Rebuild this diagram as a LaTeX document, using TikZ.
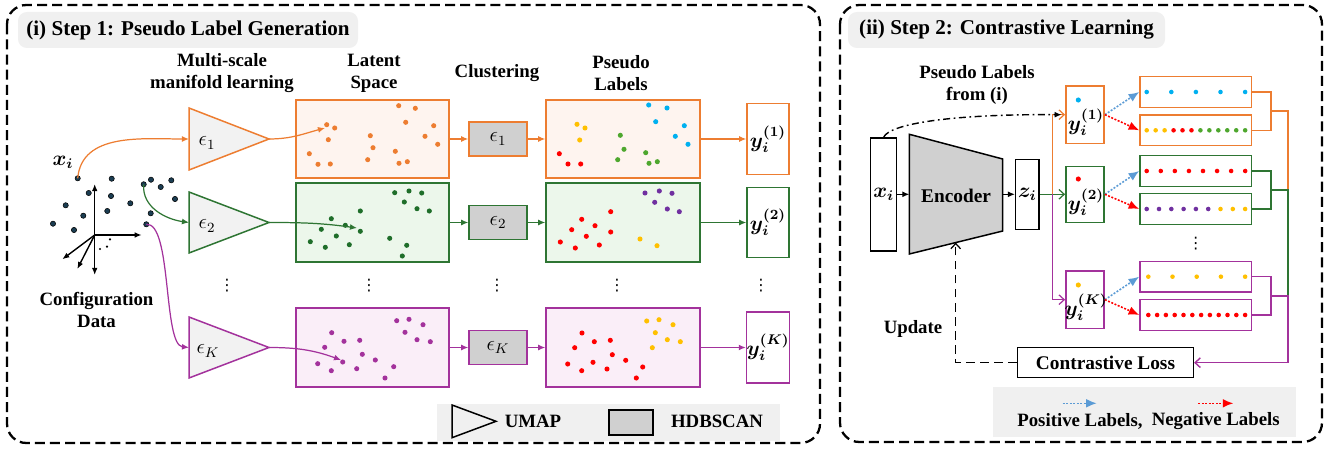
\documentclass[tikz,border=0pt]{standalone}
\usepackage{fontspec}
\setmainfont{Liberation Serif}
\newfontfamily\dejavu{DejaVu Sans}
\usetikzlibrary{arrows,arrows.meta,shapes,positioning,calc}
\definecolor{corange}{HTML}{ED7D31}
\definecolor{cgreen}{HTML}{2E7533}
\definecolor{cpurple}{HTML}{A3329C}
\definecolor{forange}{HTML}{FEF4EF}
\definecolor{fgreen}{HTML}{ECF7EB}
\definecolor{fpurple}{HTML}{FAEEF8}
\definecolor{dnavy}{HTML}{1B3D52}
\definecolor{dlgreen}{HTML}{1F6E2A}
\definecolor{pred}{HTML}{FF0000}
\definecolor{pyellow}{HTML}{FFC000}
\definecolor{pgreen}{HTML}{4EA72E}
\definecolor{pblue}{HTML}{00B0F0}
\definecolor{ppurple}{HTML}{7030A0}
\definecolor{lblue}{HTML}{5B9BD5}
\definecolor{cgray}{HTML}{D0D0D0}
\definecolor{lgray}{HTML}{F0F0F0}
\definecolor{tgray}{HTML}{F2F2F2}
\newcommand{\pxl}{0.02cm}
\newcommand{\bm}[1]{{\boldmath$#1$}}
\tikzset{
  box/.style={draw, rectangle, inner sep=0pt, line width=0.85pt},
  bx/.style 2 args={box, minimum width=#1*\pxl, minimum height=#2*\pxl},
  txt/.style={font=\bfseries\fontsize{10.7}{12.5}\selectfont, align=center, inner sep=0pt},
  mth/.style={font=\large, inner sep=0pt},
  vd/.style={font=\dejavu\small, inner sep=0pt},
  ttl/.style={fill=lgray, rounded corners=5pt, inner sep=0pt, font=\bfseries\fontsize{12}{14}\selectfont},
  panel/.style={draw, line width=1.3pt, dash pattern=on 5.7pt off 2.9pt, rounded corners=11pt},
  umap/.style={fill=tgray, line width=0.85pt, line join=miter},
  conn/.style={line width=0.7pt, ->},
  oarr/.style={line width=0.7pt, -{Straight Barb[length=3pt,width=5.5pt]}},
  axis/.style={line width=0.8pt, -{Latex[length=4pt,width=3.2pt]}},
  cfg/.style={fill=dnavy, draw=black, line width=0.3pt},
  posarr/.style={lblue, line width=0.9pt, dash pattern=on 1.1pt off 0.9pt, -{Latex[length=6pt,width=5pt]}},
  negarr/.style={pred, line width=0.9pt, dash pattern=on 1.1pt off 0.9pt, -{Latex[length=6pt,width=5pt]}},
  bline/.style={line width=0.8pt}
}
\begin{document}
\begin{tikzpicture}[x=0.02cm, y=-0.02cm, >={Latex[length=4pt,width=3.4pt]}]
\useasboundingbox (0,0) rectangle (1337,452);
\draw[panel] (7,5) rectangle (820,443);
\draw[panel] (840,5) rectangle (1322,442);
\node[ttl, minimum width=340*\pxl, minimum height=36*\pxl] (t1) at (188,30) {(i) Step 1: Pseudo Label Generation};
\node[ttl, minimum width=317*\pxl, minimum height=36*\pxl] (t2) at (1006.5,30) {(ii) Step 2: Contrastive Learning};
\node[txt] (h1) at (222,73) {Multi-scale\\manifold learning};
\node[txt] (h2) at (374,73) {Latent\\Space};
\node[txt] (h3) at (497,73) {Clustering};
\node[txt] (h4) at (621,73) {Pseudo\\Labels};
\node[txt] (cd) at (96.5,310) {Configuration\\Data};
\node[mth] (xl) at (63,162) {\bm{x_i}};

\coordinate (ax0) at (94.7,235);
\draw[axis] (ax0) -- (94.7,184);
\draw[axis] (ax0) -- (141.7,235);
\draw[axis] (ax0) -- (94.7,275);
\draw[axis] (ax0) -- (62.3,259.3);
\draw[axis] (ax0) -- (77.3,269);
\foreach \x/\y in {100/249, 107/246.7, 110/239.3} \fill (\x,\y) circle (0.7pt);
\foreach \x/\y in {77.7/178.3, 111.7/178.7, 88.7/193, 111/196, 65.7/205.3, 130.3/203.3, 83.3/215.7, 107.3/211, 53/223.7, 74/230, 143.7/184.3, 151/179.7, 160.7/187, 171.3/180.3, 175/199, 150.7/213.3, 146.3/224.3} \filldraw[cfg] (\x,\y) circle (1.5pt);
\coordinate (d0) at (77.7,178.3);
\coordinate (d1) at (143.7,184.3);
\coordinate (d2) at (146.3,224.3);

\draw[umap, draw=corange] (189,108) -- (269,139) -- (189,170) -- cycle;
\draw[umap, draw=cgreen] (189,192) -- (269,222.5) -- (189,253) -- cycle;
\draw[umap, draw=cpurple] (189,317) -- (269,347.5) -- (189,378) -- cycle;
\coordinate (u1i) at (189,139); \coordinate (u1o) at (269,139);
\coordinate (u2i) at (189,222.5); \coordinate (u2o) at (269,222.5);
\coordinate (u3i) at (189,347.5); \coordinate (u3o) at (269,347.5);
\node[mth] (e1) at (207,143) {$\epsilon_1$};
\node[mth] (e2) at (207,226) {$\epsilon_2$};
\node[mth] (e3) at (208,351) {$\epsilon_K$};

\node[bx={153}{78}, draw=corange, fill=forange] (l1) at (372.5,139) {};
\node[bx={153}{79}, draw=cgreen, fill=fgreen] (l2) at (372.5,222.5) {};
\node[bx={153}{79}, draw=cpurple, fill=fpurple] (l3) at (372.5,347.5) {};
\node[bx={58}{34}, draw=corange, fill=cgray, font=\large] (c1) at (498,139) {$\epsilon_1$};
\node[bx={58}{34}, draw=cgreen, fill=cgray, font=\large] (c2) at (498,222.5) {$\epsilon_2$};
\node[bx={58}{34}, draw=cpurple, fill=cgray, font=\large] (c3) at (498,347.5) {$\epsilon_K$};
\node[bx={154}{78}, draw=corange, fill=forange] (p1) at (623,139) {};
\node[bx={154}{79}, draw=cgreen, fill=fgreen] (p2) at (623,222.5) {};
\node[bx={154}{79}, draw=cpurple, fill=fpurple] (p3) at (623,347.5) {};
\node[bx={42}{71}, draw=corange, fill=white, font=\large] (out1) at (768,139) {\bm{y_i^{(1)}}};
\node[bx={42}{70}, draw=cgreen, fill=white, font=\large] (out2) at (768,222.5) {\bm{y_i^{(2)}}};
\node[bx={42}{71}, draw=cpurple, fill=white, font=\large] (out3) at (768,347.5) {\bm{y_i^{(K)}}};

\foreach \x/\y in {326.7/124.7, 334.7/128, 328.3/139.7, 309.3/153.7, 318/164.3, 330.3/164, 370.3/135.7, 373/147.7, 367.7/159.7, 398.7/105.7, 415.3/108.3, 405.7/122.3, 433.7/125.7, 425/136.3, 437.7/144.3, 395.3/151.3, 399/163.3, 407.3/161.7} \fill[corange] (\x,\y) circle (1.45pt);
\foreach \x/\y in {394.7/192.7, 409/191, 421.7/193, 404.3/202, 417/208.7, 429.3/211, 360.3/211, 331.3/218.7, 345.3/225.3, 360.3/231.3, 321.3/229.3, 336.3/236, 310.3/241.7, 325.3/247.3, 349.3/244.7, 389.7/238.3, 406.7/245.3, 402.3/256} \fill[dlgreen] (\x,\y) circle (1.45pt);
\foreach \x/\y in {396.7/320.7, 409/319.3, 423/324.7, 405/332.3, 417/339.7, 430.3/341.7, 331.7/332.7, 344/341.3, 359.7/340.3, 324.7/347.3, 362.3/354.3, 375.3/360, 342.7/362, 317.7/363.7, 331.3/370.7, 356.7/368.7, 393.7/366.7, 385/378} \fill[cpurple] (\x,\y) circle (1.45pt);

\foreach \x/\y in {577/124.3, 585/128, 579.7/140, 640/239, 657/245.7, 646.7/321, 659/319.7, 673/324.7, 655.3/332.7, 667.3/339.7, 680.3/341.7, 652.3/347.7} \fill[pyellow] (\x,\y) circle (1.45pt);
\foreach \x/\y in {559.3/153.7, 568/164, 580.7/164, 610.7/211.7, 581.7/219.3, 595/225.7, 571.7/229.7, 586.3/236.3, 610.7/232, 560.3/242, 575.3/248, 599.3/245, 582/333, 594.3/341.7, 610.3/340.3, 574.7/347.7, 612.3/354.7, 625.7/360.3, 567.7/364, 581.7/370.7, 593/362.3, 607/369, 642.7/367, 636.3/378} \fill[pred] (\x,\y) circle (1.45pt);
\foreach \x/\y in {620.3/135.3, 624/149.3, 617.7/159.7, 645.7/152.7, 649/163.3, 657.3/161.7} \fill[pgreen] (\x,\y) circle (1.45pt);
\foreach \x/\y in {648.7/105, 667/108, 655.7/121.7, 684.3/125.7, 675.3/136.3, 688/144.3} \fill[pblue] (\x,\y) circle (1.45pt);
\foreach \x/\y in {645/193, 659.3/191, 672/193.3, 654.7/202.3, 667.3/209, 679.3/211.7} \fill[ppurple] (\x,\y) circle (1.45pt);

\coordinate (a1) at (325,128);
\coordinate (a2) at (357,228);
\coordinate (a3) at (341,360);
\draw[conn, corange] (d0) to[out=85, in=180] (u1i);
\draw[conn, cgreen] (d1) to[out=-95, in=172] (u2i);
\draw[conn, cpurple] (d2) .. controls (172,222) and (163,345) .. (u3i);
\draw[conn, corange] (u1o) to[out=0, in=195] (a1);
\draw[conn, cgreen] (u2o) to[out=0, in=172] (a2);
\draw[conn, cpurple] (u3o) to[out=0, in=160] (a3);
\draw (l1) edge[conn, corange] (c1) (c1) edge[conn, corange] (p1) (p1) edge[conn, corange] (out1);
\draw (l2) edge[conn, cgreen] (c2) (c2) edge[conn, cgreen] (p2) (p2) edge[conn, cgreen] (out2);
\draw (l3) edge[conn, cpurple] (c3) (c3) edge[conn, cpurple] (p3) (p3) edge[conn, cpurple] (out3);
\foreach \x in {227,369,497,617,761} \node[vd] at (\x,286) {⋮};

\fill[lgray] (437,404) rectangle (780,441);
\draw[umap, fill=lgray, draw=black] (452,405) -- (496,421.3) -- (452,437.7) -- cycle;
\node[txt] (lg1) at (533,421) {UMAP};
\node[bx={44}{25}, fill=cgray, draw=black] (lg2) at (631,422.5) {};
\node[txt] (lg3) at (717,421) {HDBSCAN};

\node[txt] (h5) at (977,85) {Pseudo Labels\\from (i)};
\node[bx={26}{113}, fill=white, font=\large] (xb) at (883.7,194.3) {\bm{x_i}};
\draw[fill=cgray, line width=0.85pt] (909.3,134.3) -- (1002.7,159) -- (1002.7,231) -- (909.3,254) -- cycle;
\node[txt, font=\bfseries\fontsize{11}{13}\selectfont] (enc) at (956,196) {Encoder};
\coordinate (encin) at (909.3,194.3);
\coordinate (encout) at (1002.7,194.3);
\coordinate (encb) at (955.7,242.6);
\node[bx={23.3}{70}, fill=white, font=\large] (zb) at (1027.3,194.3) {\bm{z_i}};
\draw[conn] (xb) -- (encin);
\draw[conn] (encout) -- (zb);

\node[bx={38.3}{57.3}, draw=corange, fill=white] (yb1) at (1085,114.7) {};
\node[bx={38.3}{56}, draw=cgreen, fill=white] (yb2) at (1085,194.3) {};
\node[bx={38.3}{57.3}, draw=cpurple, fill=white] (yb3) at (1085,299.7) {};
\fill[pblue] (1078.3,100) circle (1.45pt);
\fill[pred] (1078.3,179) circle (1.45pt);
\fill[pyellow] (1078.3,285) circle (1.45pt);
\node[mth] (yl1) at (1086,122) {\bm{y_i^{(1)}}};
\node[mth] (yl2) at (1086,202) {\bm{y_i^{(2)}}};
\node[mth] (yl3) at (1086,307) {\bm{y_i^{(K)}}};

\coordinate (jz) at (1052.3,194.3);
\draw[oarr, cgreen] (zb.east) -- (yb2.west);
\draw[oarr, corange] (jz) |- (yb1.west);
\draw[oarr, cpurple] (jz) |- (yb3.west);
\draw[line width=0.8pt, dash pattern=on 4pt off 2pt on 1pt off 2pt, ->] (xb.north) .. controls (890,124) and (950,114) .. ([xshift=-2pt]yb1.west);

\node[bx={111.7}{30.5}, draw=corange, fill=white] (r1) at (1195.8,92) {};
\node[bx={111.7}{30.5}, draw=corange, fill=white] (r2) at (1195.8,130.3) {};
\node[bx={111.7}{30.5}, draw=cgreen, fill=white] (r3) at (1195.8,171) {};
\node[bx={111.7}{30.5}, draw=cgreen, fill=white] (r4) at (1195.8,209) {};
\node[bx={111.7}{30.5}, draw=cpurple, fill=white] (r5) at (1195.8,276.7) {};
\node[bx={111.7}{30.5}, draw=cpurple, fill=white] (r6) at (1195.8,315) {};
\foreach \i in {0,...,4} \fill[pblue] (1146.7+24.6*\i,92) circle (1.3pt);
\foreach \i/\c in {0/pyellow,1/pyellow,2/pyellow,3/pred,4/pred,5/pred,6/pgreen,7/pgreen,8/pgreen,9/pgreen,10/pgreen,11/pgreen} \fill[\c] (1146.7+8.95*\i,130.3) circle (1.3pt);
\foreach \i in {0,...,7} \fill[pred] (1146.7+14.07*\i,171) circle (1.3pt);
\foreach \i/\c in {0/ppurple,1/ppurple,2/ppurple,3/ppurple,4/ppurple,5/ppurple,6/pyellow,7/pyellow,8/pyellow} \fill[\c] (1146.7+12.3*\i,209) circle (1.3pt);
\foreach \i in {0,...,4} \fill[pyellow] (1148.3+24.2*\i,276.7) circle (1.3pt);
\foreach \i in {0,...,11} \fill[pred] (1148.3+8.8*\i,315) circle (1.3pt);
\node[vd] (vd6) at (1195.7,243.3) {⋮};

\draw[posarr] (yb1.east) -- (r1.west);
\draw[negarr] (yb1.east) -- (r2.west);
\draw[posarr] (yb2.east) -- (r3.west);
\draw[negarr] (yb2.east) -- (r4.west);
\draw[posarr] (yb3.east) -- (r5.west);
\draw[negarr] (yb3.east) -- (r6.west);

\node[bx={175.6}{30}, fill=white, font=\bfseries\fontsize{11}{13}\selectfont] (loss) at (1105.5,362.7) {Contrastive Loss};
\coordinate (b1) at (1271,111.2);
\coordinate (b2) at (1271,190);
\coordinate (b3) at (1271,295.8);
\coordinate (j1) at (1288,111.2);
\coordinate (j2) at (1288,190);
\coordinate (j3) at (1288,295.8);
\draw[bline, corange] (r1.east) -| (b1) |- (r2.east);
\draw[bline, corange] (b1) -- (j1) -- (j2);
\draw[bline, cgreen] (r3.east) -| (b2) |- (r4.east);
\draw[bline, cgreen] (b2) -- (j2) -- (j3);
\draw[bline, cpurple] (r5.east) -| (b3) |- (r6.east);
\draw[oarr, line width=0.8pt, cpurple] (b3) -- (j3) |- (loss.east);
\draw[oarr, dash pattern=on 5pt off 3pt] (loss.west) -| (encb);
\node[txt] (upd) at (913,329) {Update};

\fill[lgray] (993.3,386.7) rectangle (1295.7,437.3);
\coordinate (lp1) at (1062.7,403.3);
\coordinate (lp2) at (1096.7,403.3);
\coordinate (ln1) at (1198.3,403.3);
\coordinate (ln2) at (1233.3,403.3);
\draw[posarr] (lp1) -- (lp2);
\draw[negarr] (ln1) -- (ln2);
\node[txt] (lg4) at (1080,421) {Positive Labels,};
\node[txt] (lg5) at (1215.7,421) {Negative Labels};
\end{tikzpicture}
\end{document}
